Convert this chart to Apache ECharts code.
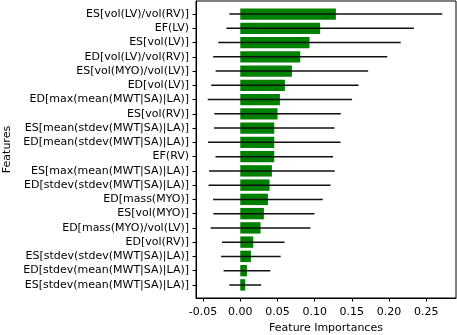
<!DOCTYPE html>
<html>
<head>
<meta charset="utf-8">
<script src="https://cdn.jsdelivr.net/npm/echarts@6/dist/echarts.min.js"></script>
<style>
  html, body { margin: 0; padding: 0; background: #fff; }
  #main { width: 457px; height: 335px; }
</style>
</head>
<body>
<div id="main"></div>
<script>
// features, top to bottom
var features = [
  'ES[vol(LV)/vol(RV)]',
  'EF(LV)',
  'ES[vol(LV)]',
  'ED[vol(LV)/vol(RV)]',
  'ES[vol(MYO)/vol(LV)]',
  'ED[vol(LV)]',
  'ED[max(mean(MWT|SA)|LA)]',
  'ES[vol(RV)]',
  'ES[mean(stdev(MWT|SA)|LA)]',
  'ED[mean(stdev(MWT|SA)|LA)]',
  'EF(RV)',
  'ES[max(mean(MWT|SA)|LA)]',
  'ED[stdev(stdev(MWT|SA)|LA)]',
  'ED[mass(MYO)]',
  'ES[vol(MYO)]',
  'ED[mass(MYO)/vol(LV)]',
  'ED[vol(RV)]',
  'ES[stdev(stdev(MWT|SA)|LA)]',
  'ED[stdev(mean(MWT|SA)|LA)]',
  'ES[stdev(mean(MWT|SA)|LA)]'
];
var importances = [0.1285, 0.1074, 0.0931, 0.0806, 0.0694, 0.0600, 0.0533, 0.0501, 0.0457, 0.0457,
                   0.0457, 0.0425, 0.0394, 0.0372, 0.0318, 0.0273, 0.0175, 0.0143, 0.0090, 0.0067];
var errors = [0.143, 0.126, 0.1226, 0.117, 0.1025, 0.099, 0.097, 0.085, 0.081, 0.089,
              0.079, 0.0845, 0.082, 0.0737, 0.068, 0.067, 0.042, 0.040, 0.0314, 0.0215];
var xTicks = [-0.05, 0, 0.05, 0.10, 0.15, 0.20, 0.25];

var rowIdx = features.map(function (f, i) { return i; });
var seriesData = importances.map(function (v, i) { return [v, i, errors[i]]; });

var font = 'DejaVu Sans';
var myChart = echarts.init(document.getElementById('main'));

myChart.setOption({
  animation: false,
  backgroundColor: '#fff',
  grid: {
    left: 196, right: 1, top: 1, bottom: 37,
    containLabel: false,
    outerBoundsMode: 'none',
    show: true, borderColor: '#000', borderWidth: 1
  },
  xAxis: {
    type: 'value',
    position: 'bottom',
    min: -0.0595,
    max: 0.29,
    name: 'Feature Importances',
    nameLocation: 'middle',
    nameGap: 22,
    nameTextStyle: { fontFamily: font, fontSize: 11, color: '#000' },
    axisLine: { show: true, onZero: false, lineStyle: { color: '#000', width: 1 } },
    splitLine: { show: false },
    axisTick: { show: true, length: 3.5, customValues: xTicks, lineStyle: { color: '#000', width: 1 } },
    axisLabel: {
      customValues: xTicks,
      margin: 9,
      fontFamily: font, fontSize: 11, color: '#000',
      formatter: function (v) { return v.toFixed(2); }
    }
  },
  yAxis: {
    type: 'value',
    position: 'left',
    inverse: true,
    min: -0.92,
    max: 19.92,
    name: 'Features',
    nameLocation: 'middle',
    nameGap: 181,
    nameTextStyle: { fontFamily: font, fontSize: 11, color: '#000' },
    axisLine: { show: true, onZero: false, lineStyle: { color: '#000', width: 1 } },
    splitLine: { show: false },
    axisTick: { show: true, length: 3.5, customValues: rowIdx, lineStyle: { color: '#000', width: 1 } },
    axisLabel: {
      customValues: rowIdx,
      margin: 7,
      fontFamily: font, fontSize: 11, color: '#000',
      formatter: function (v) { return features[Math.round(v)]; }
    }
  },
  series: [{
    // bars
    type: 'custom',
    data: seriesData,
    encode: { x: 0, y: 1 },
    renderItem: function (params, api) {
      var v = api.value(0), i = api.value(1);
      var p0 = api.coord([0, i]);
      var p1 = api.coord([v, i]);
      var h = api.size([0, 0.8])[1];
      return {
        type: 'rect',
        shape: { x: p0[0], y: p0[1] - h / 2, width: p1[0] - p0[0], height: h },
        style: { fill: '#008000' }
      };
    }
  }, {
    // error bars
    type: 'custom',
    data: seriesData,
    encode: { x: 0, y: 1 },
    renderItem: function (params, api) {
      var v = api.value(0), i = api.value(1), e = api.value(2);
      var a = api.coord([v - e, i]);
      var b = api.coord([v + e, i]);
      return {
        type: 'line',
        shape: { x1: a[0], y1: a[1], x2: b[0], y2: b[1] },
        style: { stroke: '#111', lineWidth: 1.5 }
      };
    }
  }]
});
</script>
</body>
</html>
